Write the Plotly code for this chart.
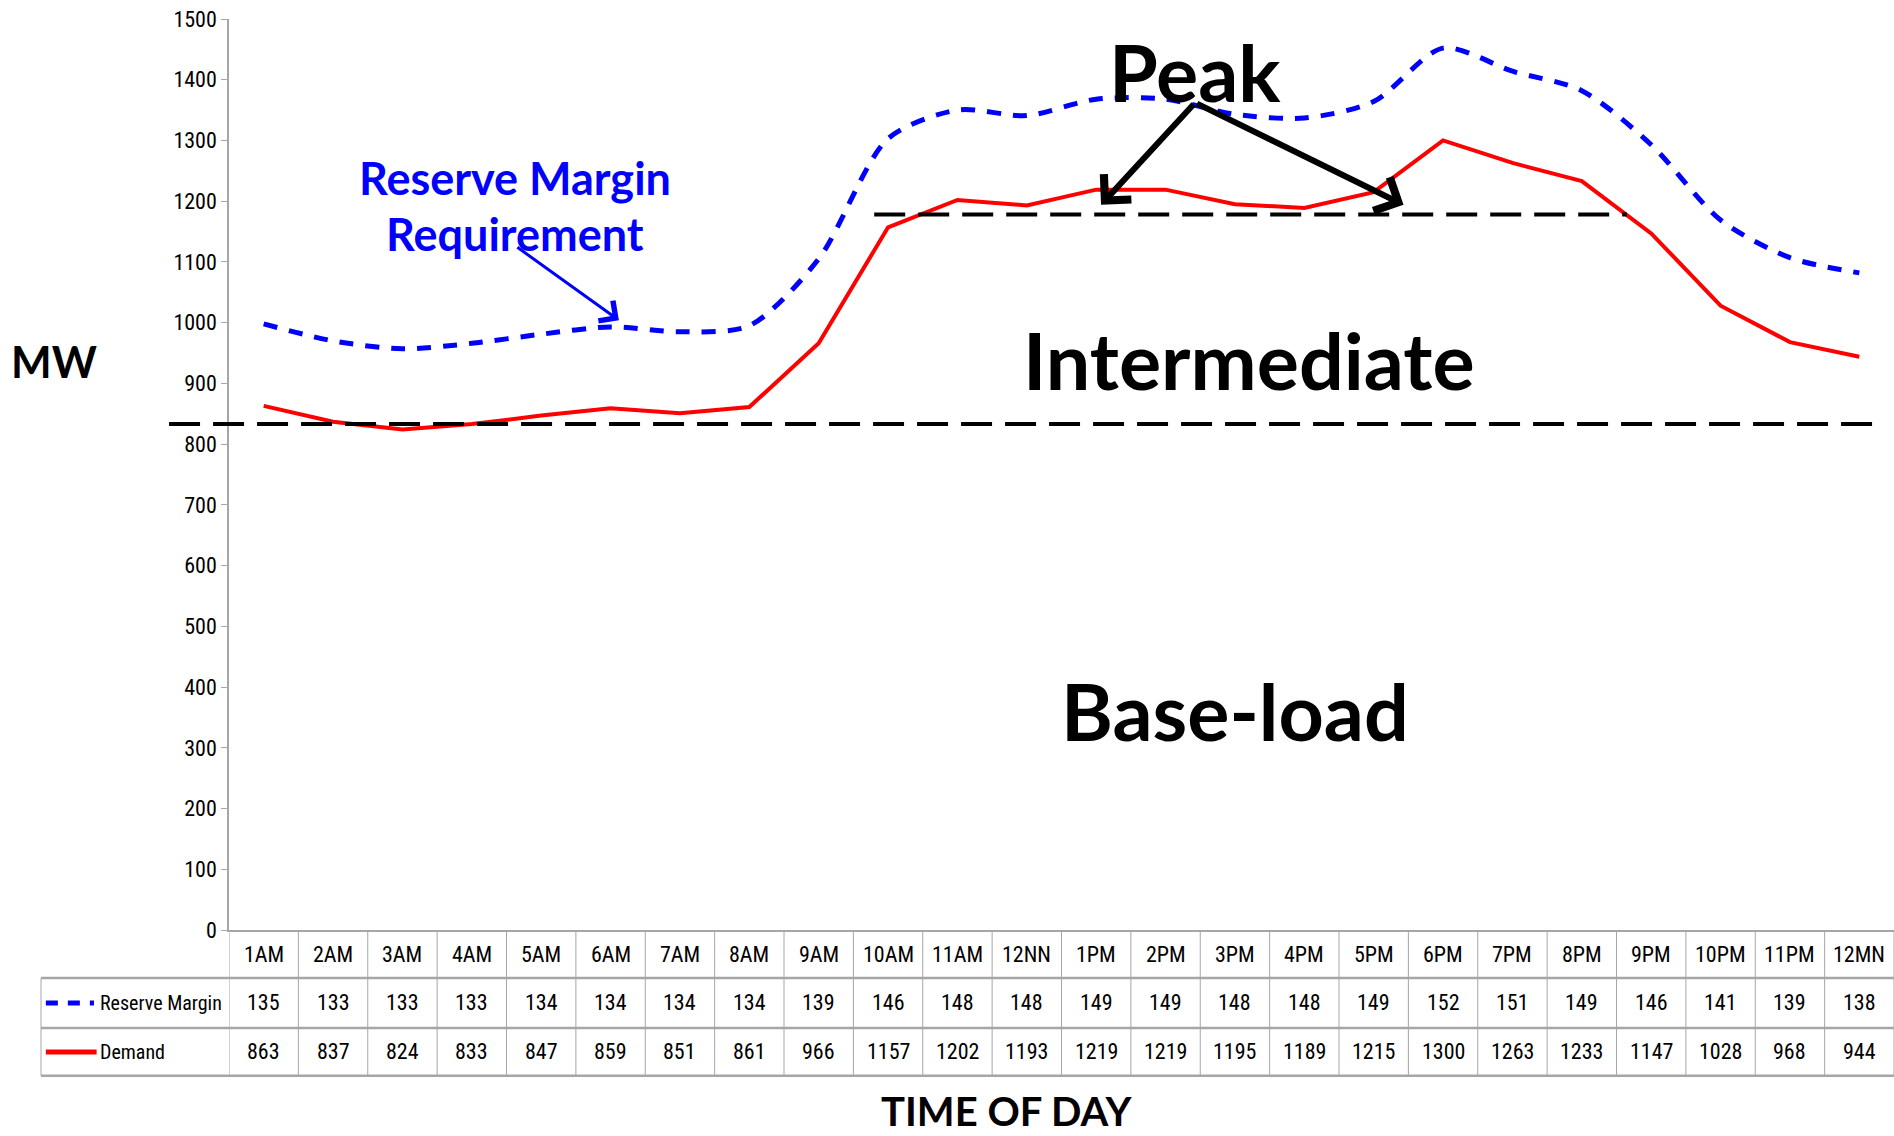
import plotly.graph_objects as go

# data
hours = ["1AM", "2AM", "3AM", "4AM", "5AM", "6AM", "7AM", "8AM", "9AM", "10AM",
         "11AM", "12NN", "1PM", "2PM", "3PM", "4PM", "5PM", "6PM", "7PM", "8PM",
         "9PM", "10PM", "11PM", "12MN"]
reserve_margin = [135, 133, 133, 133, 134, 134, 134, 134, 139, 146, 148, 148,
                  149, 149, 148, 148, 149, 152, 151, 149, 146, 141, 139, 138]
demand = [863, 837, 824, 833, 847, 859, 851, 861, 966, 1157, 1202, 1193,
          1219, 1219, 1195, 1189, 1215, 1300, 1263, 1233, 1147, 1028, 968, 944]
y_ticks = list(range(0, 1501, 100))
baseload_level = 833
peak_level = 1178

demand_plus_reserve = [d + r for d, r in zip(demand, reserve_margin)]
xi = list(range(len(hours)))

NARROW = "Liberation Sans Narrow, Arial Narrow, Roboto Condensed, Liberation Sans, sans-serif"
BOLD = "Lato, Calibri, Open Sans, sans-serif"
GRID = "#a6a6a6"

fig = go.Figure()
fig.add_trace(go.Scatter(
    x=xi, y=demand_plus_reserve, mode="lines", name="Reserve Margin",
    line=dict(color="#0000ff", width=5, dash="14px,12px", shape="spline", smoothing=0.8),
))
fig.add_trace(go.Scatter(
    x=xi, y=demand, mode="lines", name="Demand",
    line=dict(color="#ff0000", width=4),
))

# dashed reference lines
fig.add_shape(type="line", xref="paper", yref="y", x0=-0.036, x1=0.99,
              y0=baseload_level, y1=baseload_level,
              line=dict(color="black", width=4, dash="31px,13px"))
fig.add_shape(type="line", xref="x", yref="y", x0=8.8, x1=19.65,
              y0=peak_level, y1=peak_level,
              line=dict(color="black", width=4, dash="31px,13px"))

# data table under the chart
ROW_Y = [-0.0274, -0.0801, -0.1339]
LINES_Y = [0, -0.0527, -0.1076, -0.160]
LEFT = -0.1129
for i in range(len(hours) + 1):
    fig.add_shape(type="line", xref="x", yref="paper", x0=i - 0.5, x1=i - 0.5,
                  y0=LINES_Y[0], y1=LINES_Y[3], line=dict(color=GRID, width=1))
fig.add_shape(type="line", xref="paper", yref="paper", x0=LEFT, x1=LEFT,
              y0=LINES_Y[1], y1=LINES_Y[3], line=dict(color=GRID, width=1))
for yl in LINES_Y[1:]:
    fig.add_shape(type="line", xref="paper", yref="paper", x0=LEFT, x1=1,
                  y0=yl, y1=yl, line=dict(color=GRID, width=2.5))

cell_font = dict(family=NARROW, size=22, color="black")
rows = [hours, reserve_margin, demand]
for ry, vals in zip(ROW_Y, rows):
    for i, v in enumerate(vals):
        fig.add_annotation(x=i, y=ry, xref="x", yref="paper", text=str(v),
                           xanchor="center", yanchor="middle",
                           showarrow=False, font=cell_font)

# legend keys in the table
fig.add_shape(type="line", xref="paper", yref="paper", x0=-0.110, x1=-0.0811,
              y0=ROW_Y[1], y1=ROW_Y[1], line=dict(color="#0000ff", width=5, dash="12px,10px"))
fig.add_shape(type="line", xref="paper", yref="paper", x0=-0.110, x1=-0.0795,
              y0=ROW_Y[2], y1=ROW_Y[2], line=dict(color="#ff0000", width=5))
for ry, label in zip(ROW_Y[1:], ["Reserve Margin", "Demand"]):
    fig.add_annotation(x=-0.0785, y=ry, xref="paper", yref="paper", text=label,
                       xanchor="left", yanchor="middle", showarrow=False,
                       font=dict(family=NARROW, size=20, color="black"))

# axis titles
fig.add_annotation(x=0.4667, y=-0.199, xref="paper", yref="paper", text="<b>TIME OF DAY</b>",
                   xanchor="center", yanchor="middle",
                   showarrow=False, font=dict(family=BOLD, size=40, color="black"))
fig.add_annotation(x=-0.105, y=0.6235, xref="paper", yref="paper", text="<b>MW</b>",
                   xanchor="center", yanchor="middle",
                   showarrow=False, font=dict(family=BOLD, size=43, color="black"))

# labels inside the chart
big = dict(family=BOLD, size=79, color="black")
fig.add_annotation(x=13.43, y=1413, text="<b>Peak</b>", showarrow=False, font=big)
fig.add_annotation(x=14.2, y=940, text="<b>Intermediate</b>", showarrow=False, font=big)
fig.add_annotation(x=14.0, y=362, text="<b>Base-load</b>", showarrow=False, font=big)
blue = dict(family=BOLD, size=45, color="#0000ff")
fig.add_annotation(x=3.62, y=1238, text="<b>Reserve Margin</b>", showarrow=False, font=blue)
fig.add_annotation(x=3.62, y=1146, text="<b>Requirement</b>", showarrow=False, font=blue)

# arrows
fig.add_annotation(x=5.12, y=1004, ax=-103, ay=-74, text="", showarrow=True,
                   arrowhead=4, arrowsize=1.6, arrowwidth=3, arrowcolor="#0000ff")
fig.add_annotation(x=12.07, y=1194, ax=94, ay=-102, text="", showarrow=True,
                   arrowhead=4, arrowsize=1.2, arrowwidth=6, arrowcolor="black")
fig.add_annotation(x=16.43, y=1194, ax=-208, ay=-102, text="", showarrow=True,
                   arrowhead=4, arrowsize=1.2, arrowwidth=6, arrowcolor="black")

fig.update_layout(
    width=1894, height=1136,
    margin=dict(l=229, r=0, t=19, b=206, pad=0),
    paper_bgcolor="white", plot_bgcolor="white",
    showlegend=False,
    xaxis=dict(range=[-0.5, 23.5], showticklabels=False, showgrid=False, zeroline=False,
               showline=True, linecolor=GRID, linewidth=1.5, ticks=""),
    yaxis=dict(range=[0, 1500], tickvals=y_ticks, showgrid=False, zeroline=False,
               showline=True, linecolor=GRID, linewidth=1.5, ticks="outside",
               ticklen=6, tickcolor=GRID,
               tickfont=dict(family=NARROW, size=22, color="black")),
)

fig.write_html("out.html", config={"displayModeBar": False},
               post_script="document.body.style.margin='0';")
